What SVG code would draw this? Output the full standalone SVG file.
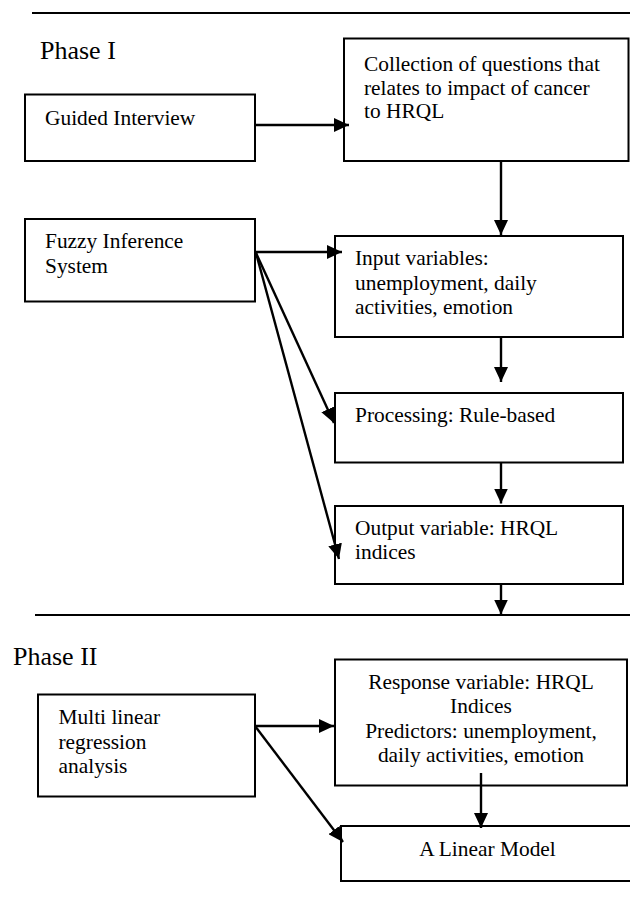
<svg xmlns="http://www.w3.org/2000/svg" width="630" height="906" viewBox="0 0 630 906" font-family="'Liberation Serif', 'Times New Roman', serif">
  <style>
    .box { fill: #ffffff; stroke: #000000; stroke-width: 2; }
    .txt { font-family: "Liberation Serif", "Times New Roman", serif; font-size: 21.4px; fill: #000000; }
    .mid { text-anchor: middle; }
    .phase { font-family: "Liberation Serif", "Times New Roman", serif; font-size: 26px; fill: #000000; }
    .rule { stroke: #000000; stroke-width: 2; fill: none; }
    .conn { stroke: #000000; stroke-width: 2.4; fill: none; marker-end: url(#arrow); }
  </style>
  <defs>
    <marker id="arrow" viewBox="0 0 15 14" refX="15" refY="7" markerWidth="15" markerHeight="14" markerUnits="userSpaceOnUse" orient="auto">
      <path d="M0,0 L15,7 L0,14 z" fill="#000000"/>
    </marker>
  </defs>
  <rect width="630" height="906" fill="#ffffff"/>

  <g id="rules">
    <line class="rule" x1="32" y1="13" x2="630" y2="13"/>
    <line class="rule" x1="35" y1="615" x2="630" y2="615"/>
  </g>

  <g id="phase1-label"><text class="phase" x="40" y="59">Phase I</text></g>
  <g id="phase2-label"><text class="phase" x="13" y="665">Phase II</text></g>

  <g id="guided">
    <rect class="box" x="25" y="94.5" width="230" height="66.5"/>
    <text class="txt" x="45" y="125">Guided Interview</text>
  </g>

  <g id="collection">
    <rect class="box" x="344" y="38.5" width="284.5" height="122.5"/>
    <text class="txt" x="364" y="71">Collection of questions that</text>
    <text class="txt" x="364" y="94.5">relates to impact of cancer</text>
    <text class="txt" x="364" y="118">to HRQL</text>
  </g>

  <g id="fuzzy">
    <rect class="box" x="25" y="219" width="230" height="82.5"/>
    <text class="txt" x="45" y="248">Fuzzy Inference</text>
    <text class="txt" x="45" y="273">System</text>
  </g>

  <g id="input">
    <rect class="box" x="335" y="236" width="288" height="101"/>
    <text class="txt" x="355" y="265">Input variables:</text>
    <text class="txt" x="355" y="289.5">unemployment, daily</text>
    <text class="txt" x="355" y="313.5">activities, emotion</text>
  </g>

  <g id="processing">
    <rect class="box" x="335" y="393" width="288" height="69.5"/>
    <text class="txt" x="355" y="422">Processing: Rule-based</text>
  </g>

  <g id="output">
    <rect class="box" x="335" y="506" width="288" height="78"/>
    <text class="txt" x="355" y="535">Output variable: HRQL</text>
    <text class="txt" x="355" y="558.5">indices</text>
  </g>

  <g id="multi">
    <rect class="box" x="38" y="694.5" width="217" height="102"/>
    <text class="txt" x="58.5" y="724">Multi linear</text>
    <text class="txt" x="58.5" y="748.5">regression</text>
    <text class="txt" x="58.5" y="773">analysis</text>
  </g>

  <g id="response">
    <rect class="box" x="335" y="659.5" width="292" height="126"/>
    <text class="txt mid" x="481" y="689">Response variable: HRQL</text>
    <text class="txt mid" x="481" y="713">Indices</text>
    <text class="txt mid" x="481" y="737.5">Predictors: unemployment,</text>
    <text class="txt mid" x="481" y="762">daily activities, emotion</text>
  </g>

  <g id="linear">
    <rect class="box" x="341" y="826" width="300" height="55"/>
    <text class="txt mid" x="487.5" y="856">A Linear Model</text>
  </g>

  <g id="connectors">
    <line class="conn" x1="255" y1="125" x2="349" y2="125"/>
    <line class="conn" x1="501" y1="161" x2="501" y2="235"/>
    <line class="conn" x1="255" y1="252" x2="342" y2="252"/>
    <line class="conn" x1="256" y1="253" x2="334" y2="423"/>
    <line class="conn" x1="256" y1="253" x2="339" y2="559"/>
    <line class="conn" x1="501" y1="337" x2="501" y2="382"/>
    <line class="conn" x1="501" y1="462.5" x2="501" y2="503.5"/>
    <line class="conn" x1="501" y1="584" x2="501" y2="614.5"/>
    <line class="conn" x1="255" y1="726" x2="334" y2="726"/>
    <line class="conn" x1="255" y1="726" x2="343" y2="842"/>
    <line class="conn" x1="481" y1="773" x2="481" y2="828"/>
  </g>
</svg>
